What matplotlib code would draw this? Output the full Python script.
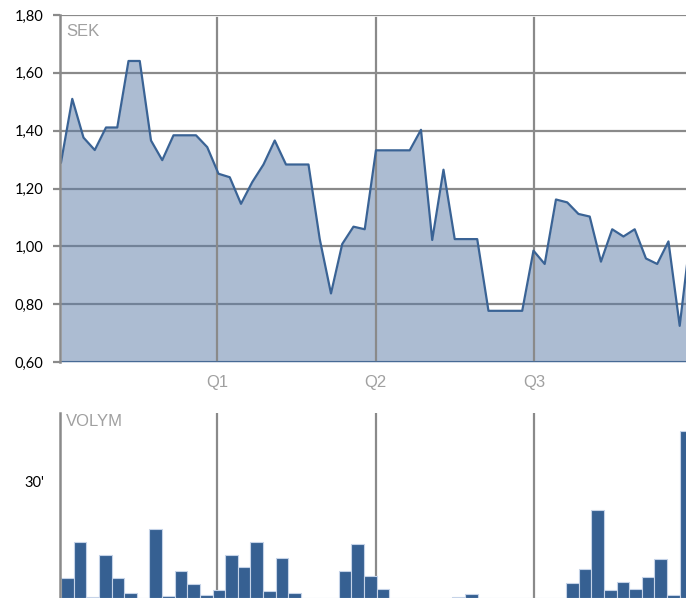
import matplotlib
matplotlib.use("Agg")
import matplotlib.pyplot as plt
import numpy as np

# share price (SEK), one point per period
price = [1.29, 1.51, 1.376, 1.333, 1.411, 1.411, 1.641, 1.641, 1.366, 1.298,
         1.384, 1.384, 1.384, 1.343, 1.251, 1.239, 1.147, 1.222, 1.283, 1.366,
         1.283, 1.283, 1.283, 1.025, 0.837, 1.008, 1.068, 1.059, 1.332, 1.332,
         1.332, 1.332, 1.403, 1.022, 1.265, 1.025, 1.025, 1.025, 0.777, 0.777,
         0.777, 0.777, 0.985, 0.939, 1.162, 1.152, 1.112, 1.103, 0.947, 1.059,
         1.034, 1.059, 0.958, 0.939, 1.017, 0.725, 1.05]

# weekly volume, thousands of shares
volume = [5.1, 14.5, 0.3, 11.1, 5.1, 1.2, 0, 17.9, 0.5, 7.0,
          3.6, 0.8, 2.1, 11.1, 7.9, 14.5, 1.7, 10.4, 1.4, 0,
          0, 0, 7.0, 13.9, 5.7, 2.2, 0, 0, 0, 0,
          0, 0.25, 1.1, 0, 0, 0, 0, 0, 0, 0,
          3.8, 7.6, 22.8, 2.0, 4.1, 2.2, 5.4, 10.2, 0.8, 43.2]

price_ticks = [0.6, 0.8, 1.0, 1.2, 1.4, 1.6, 1.8]
quarter_labels = ["Q1", "Q2", "Q3"]
quarter_frac = [0.2508, 0.504, 0.757]   # quarter boundaries as share of axis width

line_col = "#3a6395"
fill_col = "#5b7ba7"
bar_col = "#366092"
grid_col = "#8a8a8a"
label_col = "#a0a0a0"

fig = plt.figure(figsize=(6.86, 5.98), dpi=100)

# ---- price chart
ax = fig.add_axes([60/686, 236/598, 626/686, 347/598])
x = np.arange(len(price))
xmin, xmax = -0.09, 55.56
ax.fill_between(x, 0.6, price, color=fill_col, alpha=0.5, lw=0, zorder=2)
ax.plot(x, price, color=line_col, lw=1.6, zorder=4)
ax.axhline(0.6, color=line_col, lw=1.8, zorder=4)
ax.set_xlim(xmin, xmax)
ax.set_ylim(0.6, 1.8)

ax.set_yticks(price_ticks)
ax.set_yticklabels(["%.2f" % v for v in price_ticks])
ax.yaxis.set_major_formatter(matplotlib.ticker.FuncFormatter(lambda v, p: ("%.2f" % v).replace(".", ",")))
ax.grid(axis="y", color=grid_col, lw=1.6, zorder=1)
ax.set_axisbelow(True)
ax.tick_params(axis="y", length=5, width=1.6, color=grid_col, pad=7, labelsize=10.5)

q_price = [xmin + f*(xmax - xmin) for f in quarter_frac]
ax.set_xticks(q_price)
ax.set_xticklabels(quarter_labels, color=label_col, fontsize=12, family="Liberation Sans")
ax.tick_params(axis="x", length=0, pad=9)
for q in q_price:
    ax.axvline(q, ymax=0.991, color=grid_col, lw=1.6, zorder=3)

for s in ["top", "right", "bottom"]:
    ax.spines[s].set_visible(False)
ax.spines["left"].set_color(grid_col)
ax.spines["left"].set_linewidth(1.8)
ax.spines["left"].set_zorder(5)
ax.text(0.01, 0.975, "SEK", transform=ax.transAxes, color=label_col,
        fontsize=12, family="Liberation Sans", va="top", ha="left")
for t in ax.get_yticklabels():
    t.set_family("Lato")

# ---- volume chart
axv = fig.add_axes([60/686, 0.0, 626/686, 185/598])
vx = np.arange(len(volume))
vmin, vmax = -0.079, 49.5
axv.bar(vx, volume, width=1.0, align="edge", color=bar_col,
        edgecolor="#c5d3e8", lw=0.8, zorder=2)
axv.set_xlim(vmin, vmax)
axv.set_ylim(0, 47.8)
axv.set_yticks([30])
axv.set_yticklabels(["30'"], family="Lato", fontsize=10.5)
axv.tick_params(axis="y", length=0, pad=11)

q_vol = [vmin + f*(vmax - vmin) for f in quarter_frac]
axv.set_xticks(q_vol)
axv.set_xticklabels([])
axv.tick_params(axis="x", length=0)
axv.grid(axis="x", color=grid_col, lw=1.6, zorder=3)
for s in ["top", "right", "bottom"]:
    axv.spines[s].set_visible(False)
axv.spines["left"].set_color(grid_col)
axv.spines["left"].set_linewidth(1.8)
axv.text(0.01, 0.995, "VOLYM", transform=axv.transAxes, color=label_col,
         fontsize=12, family="Liberation Sans", va="top", ha="left")

fig.savefig("out.png", dpi=100)
